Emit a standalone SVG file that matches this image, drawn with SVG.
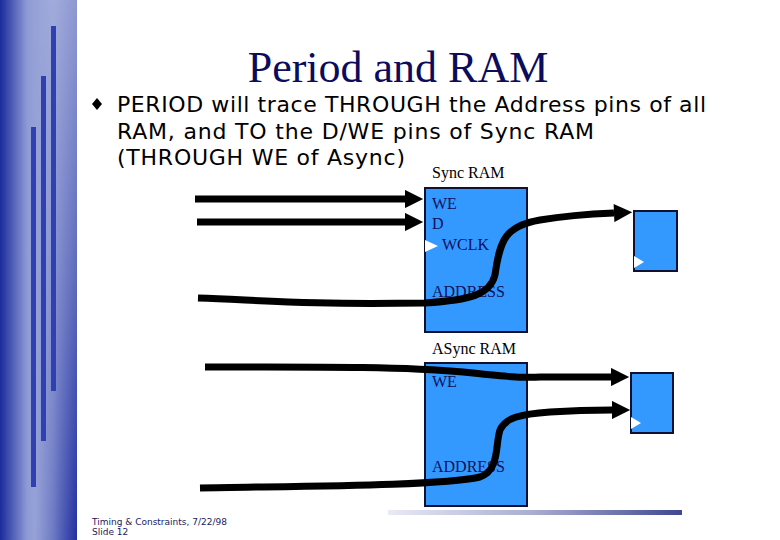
<svg xmlns="http://www.w3.org/2000/svg" width="780" height="540" viewBox="0 0 780 540">
<defs>
<linearGradient id="side" x1="0" y1="0" x2="1" y2="0">
<stop offset="0" stop-color="#1a2a9a"/>
<stop offset="0.35" stop-color="#8e9ad4"/>
<stop offset="0.7" stop-color="#a8b2de"/>
<stop offset="1" stop-color="#9aa4d8"/>
</linearGradient>
<linearGradient id="sideRight" x1="0" y1="0" x2="1" y2="0">
<stop offset="0" stop-color="#2030a0" stop-opacity="0"/>
<stop offset="1" stop-color="#2030a0" stop-opacity="1"/>
</linearGradient>
<linearGradient id="fadeV" x1="0" y1="0" x2="0" y2="1">
<stop offset="0" stop-color="#fff" stop-opacity="0.1"/>
<stop offset="0.5" stop-color="#fff" stop-opacity="0.5"/>
<stop offset="1" stop-color="#fff" stop-opacity="1"/>
</linearGradient>
<mask id="sideMask" maskUnits="userSpaceOnUse" x="0" y="0" width="77" height="540">
<rect x="0" y="0" width="77" height="540" fill="url(#fadeV)"/>
</mask>
<linearGradient id="rule" x1="0" y1="0" x2="1" y2="0">
<stop offset="0" stop-color="#e8eaf4"/>
<stop offset="0.5" stop-color="#a8acd0"/>
<stop offset="1" stop-color="#404890"/>
</linearGradient>
<marker id="ah" viewBox="0 0 10 10" refX="0" refY="5" markerWidth="2.8" markerHeight="2.6" orient="auto" markerUnits="strokeWidth">
<path d="M0,0 L10,5 L0,10 z" fill="#000"/>
</marker>
<style>
.ttl{font-family:"Liberation Serif","Times New Roman",serif;font-size:44px;fill:#0c0c5c}
.body{font-family:"DejaVu Sans",Verdana,sans-serif;font-size:22px;fill:#000}
.lbl{font-family:"Liberation Serif","Times New Roman",serif;font-size:16px;fill:#10105a}
.cap{font-family:"Liberation Serif","Times New Roman",serif;font-size:16px;fill:#000}
.foot{font-family:"DejaVu Sans",Verdana,sans-serif;font-size:9px;fill:#1a1a60}
.ram{fill:#3399ff;stroke:#101030;stroke-width:2}
.clk{fill:#fff}
.wire{fill:none;stroke:#000;stroke-width:7}
.bar{fill:#3040b0}
</style>
</defs>
<rect width="780" height="540" fill="#fff"/>
<g id="sidebar">
<rect x="0" y="0" width="77" height="540" fill="url(#side)"/>
<rect x="35" y="0" width="42" height="540" fill="url(#sideRight)" mask="url(#sideMask)"/>
<rect class="bar" x="51" y="26" width="5" height="365"/>
<rect class="bar" x="41" y="76" width="5" height="365"/>
<rect class="bar" x="31" y="127" width="5" height="360"/>
</g>
<text class="ttl" x="398" y="82" text-anchor="middle">Period and RAM</text>
<g id="bullet">
<path d="M97,98 L102,104 L97,110 L92,104 z" fill="#000"/>
<text class="body" x="117" y="112" textLength="589" lengthAdjust="spacing">PERIOD will trace THROUGH the Address pins of all</text>
<text class="body" x="117" y="139" textLength="477" lengthAdjust="spacing">RAM, and TO the D/WE pins of Sync RAM</text>
<text class="body" x="117" y="165" textLength="288" lengthAdjust="spacing">(THROUGH WE of Async)</text>
</g>
<g id="sync-ram">
<text class="cap" x="432" y="178">Sync RAM</text>
<rect class="ram" x="425" y="188" width="102" height="144"/>
<path class="clk" d="M425,240 L438,246 L425,252 z"/>
<text class="lbl" x="432" y="209">WE</text>
<text class="lbl" x="432" y="229">D</text>
<text class="lbl" x="442" y="250">WCLK</text>
<text class="lbl" x="432" y="297">ADDRESS</text>
</g>
<g id="sync-reg">
<rect class="ram" x="634" y="211" width="43" height="60"/>
<path class="clk" d="M634,256 L644,262 L634,268 z"/>
</g>
<g id="async-ram">
<text class="cap" x="432" y="354">ASync RAM</text>
<rect class="ram" x="425" y="363" width="102" height="143"/>
<text class="lbl" x="432" y="387">WE</text>
<text class="lbl" x="432" y="472">ADDRESS</text>
</g>
<g id="async-reg">
<rect class="ram" x="631" y="373" width="42" height="60"/>
<path class="clk" d="M631,417 L641,423 L631,429 z"/>
</g>
<g id="connectors">
<path class="wire" marker-end="url(#ah)" d="M195,199 L405,199"/>
<path class="wire" marker-end="url(#ah)" d="M197,222 L405,222"/>
<path class="wire" marker-end="url(#ah)" d="M198,298 C260,300 300,305 425,303 C470,300 490,295 495,275 C500,240 505,226 540,220 C570,215 590,214 614,213"/>
<path class="wire" marker-end="url(#ah)" d="M205,367 C300,367 400,366 463,372 C500,376 520,378 540,377 L611,377"/>
<path class="wire" marker-end="url(#ah)" d="M200,488 C300,486 440,486 480,477 C500,470 495,445 500,430 C505,418 520,414 550,412 C580,410 600,410 612,410"/>
</g>
<rect x="388" y="510" width="294" height="5" fill="url(#rule)"/>
<g id="footer">
<text class="foot" x="92" y="525">Timing &amp; Constraints, 7/22/98</text>
<text class="foot" x="92" y="535">Slide 12</text>
</g>
</svg>
